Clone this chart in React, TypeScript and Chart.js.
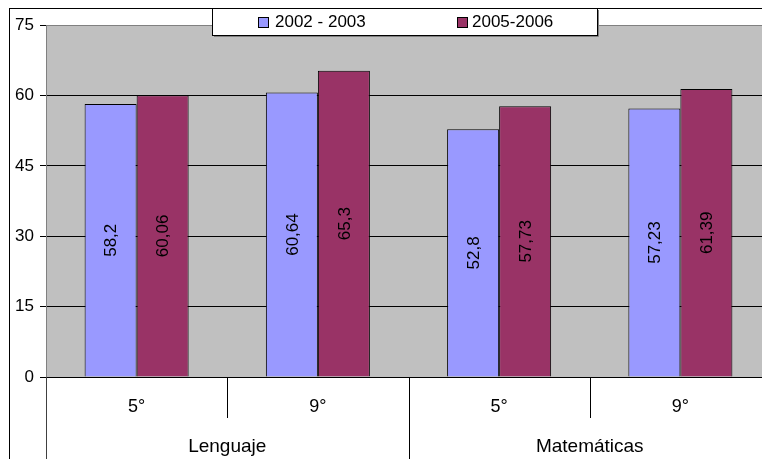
import React, { useEffect, useRef } from "react";
import { Chart, registerables } from "chart.js";

Chart.register(...registerables);

const categories = ["5°", "9°", "5°", "9°"];
const groups = ["Lenguaje", "Matemáticas"];
const seriesNames = ["2002 - 2003", "2005-2006"];
const series2002 = [58.2, 60.64, 52.8, 57.23];
const series2005 = [60.06, 65.3, 57.73, 61.39];
const yMin = 0;
const yMax = 75;
const yStep = 15;

const colors = ["#9999FF", "#993366"];
const FONT = "'Liberation Sans', Arial, sans-serif";

const bgPlugin = {
  id: "plotBg",
  beforeDraw(chart: any) {
    const { ctx, chartArea } = chart;
    ctx.save();
    ctx.fillStyle = "#C0C0C0";
    ctx.fillRect(chartArea.left, chartArea.top, chartArea.right - chartArea.left, chartArea.bottom - chartArea.top);
    ctx.restore();
  },
};

const separatorPlugin = {
  id: "separators",
  afterDraw(chart: any) {
    const { ctx, chartArea } = chart;
    const x = chart.scales.x;
    const h = chart.height;
    ctx.save();
    ctx.lineWidth = 1;
    const line = (px: number, y0: number, y1: number, color: string) => {
      ctx.strokeStyle = color;
      ctx.beginPath();
      ctx.moveTo(Math.round(px) + 0.5, y0);
      ctx.lineTo(Math.round(px) + 0.5, y1);
      ctx.stroke();
    };
    line(chartArea.left - 0.5, chartArea.bottom, h, "#404040");
    for (let i = 1; i < categories.length; i++) {
      const px = (x.getPixelForValue(i - 1) + x.getPixelForValue(i)) / 2;
      const full = i % 2 === 0;
      line(px, chartArea.bottom, full ? h : x.bottom, "#000");
    }
    ctx.restore();
  },
};

const valueLabelPlugin = {
  id: "valueLabels",
  afterDatasetsDraw(chart: any) {
    const { ctx } = chart;
    ctx.save();
    ctx.font = `17px ${FONT}`;
    ctx.fillStyle = "#000";
    ctx.textAlign = "center";
    ctx.textBaseline = "middle";
    chart.data.datasets.forEach((ds: any, di: number) => {
      const meta = chart.getDatasetMeta(di);
      meta.data.forEach((el: any, i: number) => {
        const v = ds.data[i];
        const cy = (el.y + el.base) / 2;
        ctx.save();
        ctx.translate(el.x, cy);
        ctx.rotate(-Math.PI / 2);
        ctx.fillText(String(v).replace(".", ","), 0, 1);
        ctx.restore();
      });
    });
    ctx.restore();
  },
};

const legendPlugin = {
  id: "customLegend",
  afterDraw(chart: any) {
    const { ctx } = chart;
    const left = 202;
    const right = 587;
    const top = -1;
    const bottom = 26;
    ctx.save();
    ctx.fillStyle = "#fff";
    ctx.fillRect(left, 0, right - left, bottom);
    ctx.strokeStyle = "#000";
    ctx.lineWidth = 1;
    ctx.strokeRect(left + 0.5, top + 0.5, right - left, bottom - top);
    ctx.strokeStyle = "#808080";
    ctx.beginPath();
    ctx.moveTo(right + 1.5, 1);
    ctx.lineTo(right + 1.5, bottom + 1.5);
    ctx.lineTo(left + 2, bottom + 1.5);
    ctx.stroke();
    const items = [
      { sx: 248, tx: 265 },
      { sx: 447, tx: 462 },
    ];
    ctx.font = `17px ${FONT}`;
    ctx.textBaseline = "middle";
    ctx.textAlign = "left";
    chart.data.datasets.forEach((ds: any, i: number) => {
      const it = items[i];
      ctx.fillStyle = ds.backgroundColor;
      ctx.fillRect(it.sx, 8, 11, 11);
      ctx.strokeStyle = "#000";
      ctx.strokeRect(it.sx + 0.5, 8.5, 10, 10);
      ctx.fillStyle = "#000";
      ctx.fillText(ds.label, it.tx, 13.5);
    });
    ctx.restore();
  },
};

export default function App() {
  const ref = useRef<HTMLCanvasElement | null>(null);
  useEffect(() => {
    if (!ref.current) return;
    const chart = new Chart(ref.current, {
      type: "bar",
      data: {
        labels: categories,
        datasets: [
          {
            label: seriesNames[0],
            data: series2002,
            backgroundColor: colors[0],
            borderColor: "#000",
            borderWidth: 1,
            categoryPercentage: 0.574,
            barPercentage: 1,
          },
          {
            label: seriesNames[1],
            data: series2005,
            backgroundColor: colors[1],
            borderColor: "#000",
            borderWidth: 1,
            categoryPercentage: 0.574,
            barPercentage: 1,
          },
        ],
      },
      options: {
        responsive: false,
        animation: false,
        devicePixelRatio: 1,
        layout: { padding: { top: 15, right: 19, left: 0, bottom: 0 } },
        plugins: { legend: { display: false }, tooltip: { enabled: false }, title: { display: false } },
        scales: {
          x: {
            type: "category",
            position: "bottom",
            weight: 1,
            grid: { display: false, drawOnChartArea: false, drawTicks: false },
            border: { display: false },
            ticks: { font: { size: 18, family: FONT }, color: "#000", padding: 19, maxRotation: 0 },
            afterFit: (s: any) => {
              s.height = 41;
            },
          },
          x2: {
            type: "category",
            position: "bottom",
            weight: 2,
            labels: groups,
            offset: true,
            grid: { display: false, drawOnChartArea: false, drawTicks: false },
            border: { display: false },
            ticks: { font: { size: 19, family: FONT }, color: "#000", padding: 17, maxRotation: 0 },
            afterFit: (s: any) => {
              s.height = 50;
            },
          },
          y: {
            min: yMin,
            max: yMax,
            ticks: { stepSize: yStep, font: { size: 17, family: FONT }, color: "#000", padding: 6 },
            grid: {
              color: (c: any) => (c.tick && c.tick.value === yMax ? "#808080" : "#000"),
              tickColor: "#000",
              tickLength: 6,
            },
            border: { color: "#808080" },
            afterFit: (s: any) => {
              s.width = 36;
            },
          },
        },
      } as any,
      plugins: [bgPlugin, separatorPlugin, valueLabelPlugin, legendPlugin],
    });
    return () => chart.destroy();
  }, []);

  return (
    <div style={{ position: "fixed", left: 0, top: 0, width: 762, height: 459, overflow: "hidden", background: "#fff" }}>
      <div
        style={{
          position: "absolute",
          left: 9,
          top: 8,
          width: 800,
          height: 480,
          borderLeft: "1px solid #000",
          borderTop: "1px solid #000",
        }}
      />
      <canvas ref={ref} width={780} height={459} style={{ position: "absolute", left: 10, top: 9, width: 780, height: 459 }} />
    </div>
  );
}
